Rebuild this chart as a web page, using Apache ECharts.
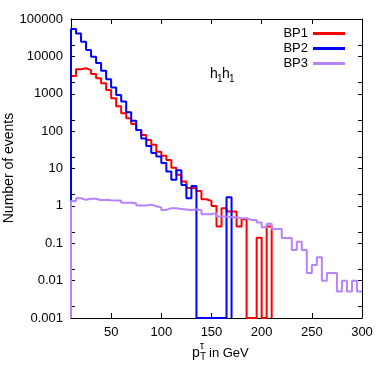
<!DOCTYPE html>
<html>
<head>
<meta charset="utf-8">
<script src="https://cdn.jsdelivr.net/npm/echarts@6/dist/echarts.min.js"></script>
<style>
  html, body { margin: 0; padding: 0; background: #fff; }
  #chart { width: 382px; height: 382px; }
</style>
</head>
<body>
<div id="chart"></div>
<script>
// bins are 5 GeV wide, starting at 10 GeV; 0 = empty bin
const binStart = 10;
const binWidth = 5;

const bp1 = [3000, 4500, 4800, 4300, 3400, 2600, 1900, 1260, 760, 460,
  300, 220, 155, 107, 79, 58, 43, 28, 22, 17,
  10.5, 6.8, 4.5, 3.0, 3.0, 2.5, 1.5, 1.35, 1.0, 0.28,
  0.87, 0.71, 0.71, 0.28, 0.44, 0, 0, 0.14, 0, 0.28];

const bp2 = [54000, 41000, 24500, 14800, 9700, 6600, 4100, 2450, 1480, 930,
  620, 320, 190, 107, 63, 40, 26, 21, 14, 8.3,
  5, 9, 3.6, 1.6, 3.4, 0, 0, 0, 0, 0,
  0, 1.7];

const bp3 = [1.36, 1.6, 1.45, 1.55, 1.55, 1.42, 1.45, 1.42, 1.4, 1.4,
  1.22, 1.22, 1.18, 1.02, 1.02, 1.08, 0.98, 0.9, 0.78, 0.86,
  0.86, 0.83, 0.8, 0.77, 0.8, 0.78, 0.6, 0.6, 0.64, 0.52,
  0.52, 0.5, 0.5, 0.47, 0.47, 0.42, 0.42, 0.36, 0.27, 0.33,
  0.24, 0.24, 0.138, 0.138, 0.066, 0.11, 0.066, 0.016, 0.026, 0.042,
  0.010, 0.016, 0.016, 0.0051, 0.010, 0.0051, 0.010, 0.0051];

const xTicks = [50, 100, 150, 200, 250, 300];
const yTickLabels = ['0.001', '0.01', '0.1', '1', '10', '100', '1000', '10000', '100000'];
const yTicks = [0.001, 0.002, 0.01, 0.02, 0.1, 0.2, 1, 2, 10, 20, 100, 200,
  1000, 2000, 10000, 20000, 100000];

const yMin = 0.001;
const yMax = 100000;
const font = '"Liberation Sans Narrow", "Liberation Sans", Arial, sans-serif';

// histogram outline: rise at the first edge, step across each bin
const toSteps = (values, dropAtEnd) => {
  const pts = [[binStart, yMin]];
  values.forEach((v, i) => {
    pts.push([binStart + i * binWidth, v > 0 ? v : yMin]);
  });
  const last = values[values.length - 1];
  const end = binStart + values.length * binWidth;
  pts.push([end, last > 0 ? last : yMin]);
  if (dropAtEnd) pts.push([end, yMin]);
  return pts;
};

const chart = echarts.init(document.getElementById('chart'));

const tickLabel = value => yTickLabels[Math.round(Math.log10(value)) + 3];

const histSeries = (name, values, color, drop) => ({
  name: name,
  type: 'line',
  step: 'end',
  showSymbol: false,
  symbol: 'none',
  data: toSteps(values, drop),
  lineStyle: { color: color, width: 2 },
  itemStyle: { color: color },
  animation: false,
});

const yAxisBase = {
  type: 'log',
  logBase: 10,
  min: yMin,
  max: yMax,
  interval: 1,
  axisLine: { show: true, lineStyle: { color: '#000', width: 1 } },
  axisTick: { show: true, inside: true, length: 4, customValues: yTicks, lineStyle: { color: '#000' } },
  splitLine: { show: false },
};

const option = {
  animation: false,
  grid: { left: 71, right: 20, top: 19, bottom: 64 },
  legend: {
    orient: 'vertical',
    right: 32,
    top: 22,
    align: 'right',
    itemWidth: 32,
    itemHeight: 3,
    itemGap: 2,
    icon: 'rect',
    textStyle: { fontFamily: font, fontSize: 13, color: '#000' },
    data: ['BP1', 'BP2', 'BP3'],
  },
  xAxis: [
    {
      type: 'value',
      min: 10,
      max: 300,
      axisLine: { lineStyle: { color: '#000', width: 1 } },
      axisTick: { inside: true, length: 5, customValues: xTicks, lineStyle: { color: '#000' } },
      axisLabel: { customValues: xTicks, margin: 8, color: '#000', fontFamily: font, fontSize: 13 },
      splitLine: { show: false },
    },
    {
      type: 'value',
      position: 'top',
      min: 10,
      max: 300,
      axisLine: { lineStyle: { color: '#000', width: 1 } },
      axisTick: { inside: true, length: 5, customValues: xTicks, lineStyle: { color: '#000' } },
      axisLabel: { show: false },
      splitLine: { show: false },
    },
  ],
  yAxis: [
    Object.assign({}, yAxisBase, {
      axisLabel: { formatter: tickLabel, margin: 8, color: '#000', fontFamily: font, fontSize: 13 },
    }),
    Object.assign({}, yAxisBase, {
      position: 'right',
      axisLabel: { show: false },
    }),
  ],
  graphic: [
    {
      type: 'text',
      x: 9,
      y: 168,
      rotation: Math.PI / 2,
      style: { text: 'Number of events', fontFamily: '"Liberation Sans", Arial, sans-serif', fontSize: 14, fill: '#000', align: 'center', verticalAlign: 'middle' },
    },
    { type: 'text', x: 192, y: 346, style: { text: 'p', fontFamily: font, fontSize: 14, fill: '#000' } },
    { type: 'text', x: 200, y: 341, style: { text: 'τ', fontFamily: font, fontSize: 10, fill: '#000' } },
    { type: 'text', x: 200, y: 352, style: { text: 'T', fontFamily: font, fontSize: 10, fill: '#000' } },
    { type: 'text', x: 209, y: 347, style: { text: 'in GeV', fontFamily: font, fontSize: 13, fill: '#000' } },
    { type: 'text', x: 210, y: 67, style: { text: 'h', fontFamily: font, fontSize: 14, fill: '#000' } },
    { type: 'text', x: 217, y: 74, style: { text: '1', fontFamily: font, fontSize: 10, fill: '#000' } },
    { type: 'text', x: 222, y: 67, style: { text: 'h', fontFamily: font, fontSize: 14, fill: '#000' } },
    { type: 'text', x: 229, y: 74, style: { text: '1', fontFamily: font, fontSize: 10, fill: '#000' } },
  ],
  series: [
    histSeries('BP1', bp1, '#ff0000', true),
    histSeries('BP2', bp2, '#0000ff', true),
    histSeries('BP3', bp3, '#b583ff', false),
  ],
};

chart.setOption(option);
window.addEventListener('resize', () => chart.resize());
</script>
</body>
</html>
